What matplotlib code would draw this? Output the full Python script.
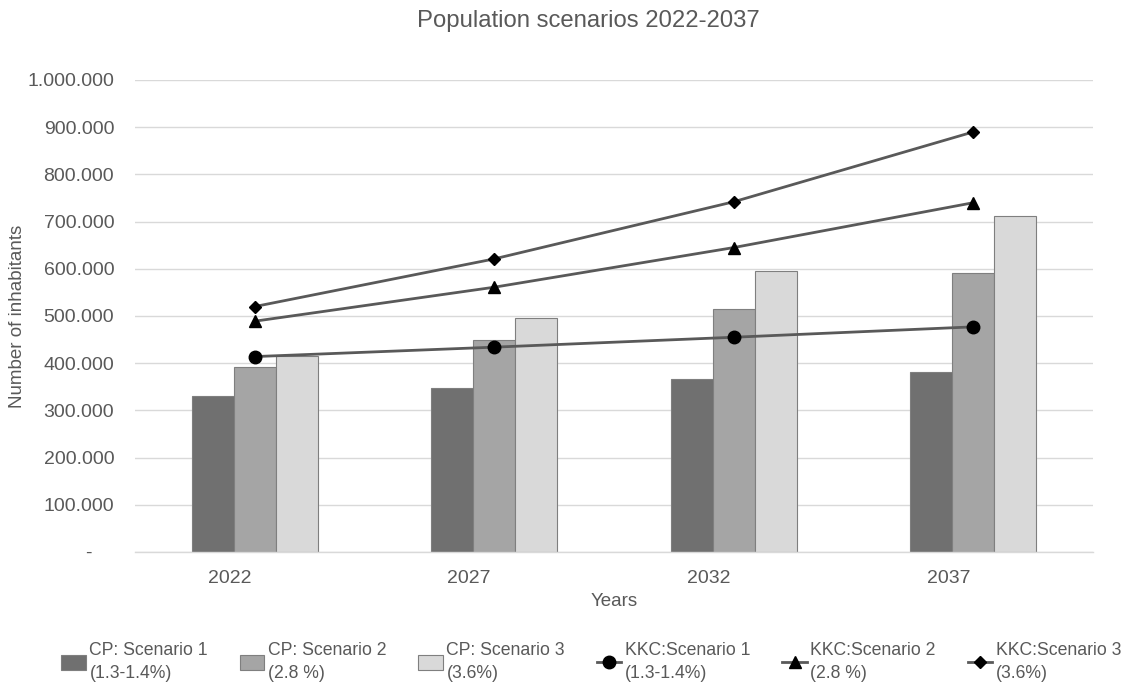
import matplotlib
matplotlib.use("Agg")
import matplotlib.pyplot as plt
import matplotlib.transforms as mtransforms
from matplotlib.ticker import FuncFormatter
import numpy as np

plt.rcParams['font.family'] = ['Liberation Sans', 'DejaVu Sans']

years = ["2022", "2027", "2032", "2037"]
cp_s1 = [330000, 348000, 366000, 382000]
cp_s2 = [391000, 449000, 515000, 592000]
cp_s3 = [415000, 496000, 595000, 712000]
kkc_s1 = [414000, 434000, 455000, 477000]
kkc_s2 = [489000, 561000, 645000, 740000]
kkc_s3 = [520000, 621000, 742000, 890000]

bar_labels = ["CP: Scenario 1\n(1.3-1.4%)", "CP: Scenario 2\n(2.8 %)", "CP: Scenario 3\n(3.6%)"]
line_labels = ["KKC:Scenario 1\n(1.3-1.4%)", "KKC:Scenario 2\n(2.8 %)", "KKC:Scenario 3\n(3.6%)"]

txt = "#595959"
fig = plt.figure(figsize=(11.26, 6.84), dpi=100)
ax = fig.add_axes([135/1126, 1 - 552/684, (1093-135)/1126, (552-80)/684])

x = np.arange(len(years))
w = 0.176
bar_colors = ["#707070", "#a5a5a5", "#d9d9d9"]
handles = []
for i, (vals, c, lab) in enumerate(zip([cp_s1, cp_s2, cp_s3], bar_colors, bar_labels)):
    h = ax.bar(x + (i - 1) * w, vals, width=w, color=c, edgecolor="#7f7f7f", linewidth=0.8, label=lab, zorder=2)
    handles.append(h)

markers = ["o", "^", "D"]
msizes = [9, 9, 6.5]
for vals, m, ms, lab in zip([kkc_s1, kkc_s2, kkc_s3], markers, msizes, line_labels):
    h, = ax.plot(x, vals, color="#595959", linewidth=2, marker=m, markersize=ms,
                 markerfacecolor="black", markeredgecolor="black", label=lab, zorder=3)
    handles.append(h)

ax.set_xlim(-0.5, 3.5)
ax.set_ylim(0, 1000000)
ax.set_yticks(np.arange(0, 1000001, 100000))

def fmt(v, pos):
    if v == 0:
        return "-    "
    return f"{int(v):,}".replace(",", ".")
ax.yaxis.set_major_formatter(FuncFormatter(fmt))
ax.grid(axis="y", color="#d9d9d9", linewidth=1, zorder=0)
ax.set_axisbelow(True)
for s in ["top", "right", "left"]:
    ax.spines[s].set_visible(False)
ax.spines["bottom"].set_color("#d9d9d9")
ax.spines["bottom"].set_linewidth(1)
ax.tick_params(axis="both", length=0, labelsize=14, labelcolor=txt)
ax.tick_params(axis="y", pad=15)
ax.tick_params(axis="x", pad=13)
ax.set_xticks(x)
ax.set_xticklabels(years)
offset = mtransforms.ScaledTranslation(-0.25, 0, fig.dpi_scale_trans)
for lbl in ax.get_xticklabels():
    lbl.set_transform(lbl.get_transform() + offset)

ax.set_xlabel("Years", fontsize=13.5, color=txt)
ax.xaxis.set_label_coords(0.5, -(602 - 552) / 472, transform=ax.transAxes)
ax.xaxis.label.set_va("center")
ax.set_ylabel("Number of inhabitants", fontsize=13.5, color=txt)
ax.yaxis.set_label_coords((18 - 135) / 958, 0.5, transform=ax.transAxes)
ax.yaxis.label.set_va("center")
fig.text(588/1126, 1 - 21/684, "Population scenarios 2022-2037", ha="center", va="center", fontsize=17.2, color=txt)

leg = fig.legend(handles=handles, loc="center", bbox_to_anchor=(0.525, 1 - 662/684), ncol=6,
                 frameon=False, fontsize=12.7, handlelength=1.4, handleheight=0.9, handletextpad=0.2,
                 columnspacing=1.8, labelcolor=txt)
for t in leg.get_texts():
    t.set_linespacing(1.45)

fig.savefig("out.png", dpi=100)
